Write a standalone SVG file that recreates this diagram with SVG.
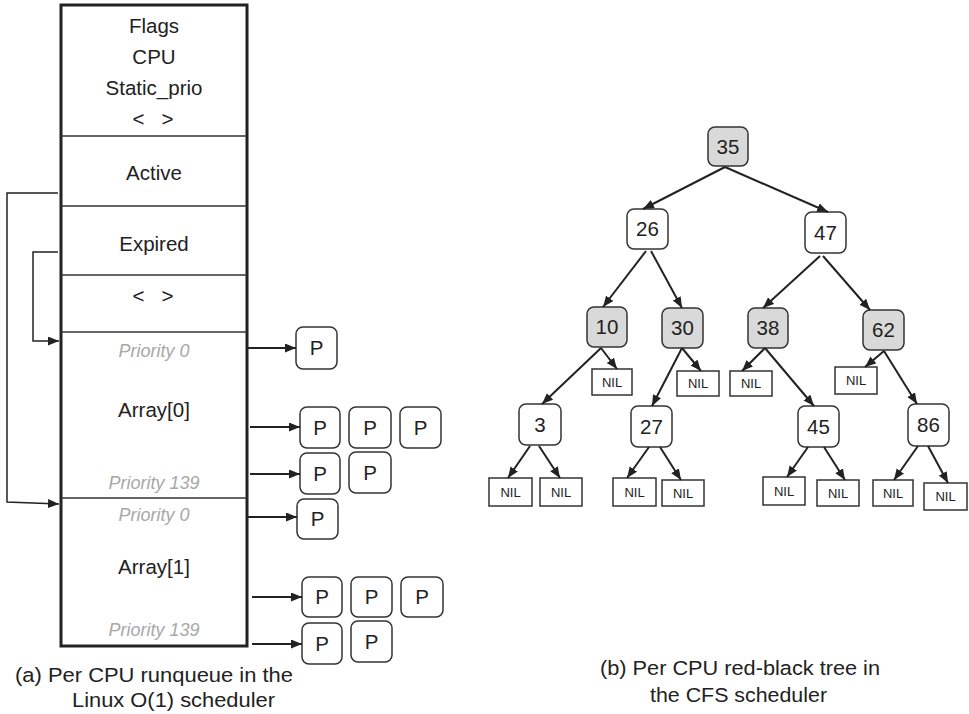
<svg xmlns="http://www.w3.org/2000/svg" width="969" height="714" viewBox="0 0 969 714">
<style>
text{font-family:"Liberation Sans",Arial,sans-serif;fill:#222}
.lbl{font-size:20.5px;text-anchor:middle}
.pri{font-size:18px;font-style:italic;fill:#a8a8a8;text-anchor:middle}
.cap{font-size:20.5px}
.nil{font-size:13px;text-anchor:middle}
.node rect{fill:#fff;stroke:#333;stroke-width:1.5}
.node.g rect{fill:#d9d9d9}
.nilbox rect{fill:#fff;stroke:#333;stroke-width:1.5}
.pbox rect{fill:#fff;stroke:#333;stroke-width:1.5}
.edge{stroke:#222;stroke-width:2;fill:none}
.thin{stroke:#222;stroke-width:1.5;fill:none}
.div{stroke:#333;stroke-width:1.5}
</style>
<defs>
<marker id="ah" markerUnits="userSpaceOnUse" markerWidth="12" markerHeight="10" refX="11" refY="4.5" orient="auto">
<path d="M0,0 L11,4.5 L0,9 z" fill="#222"/>
</marker>
</defs>
<rect width="969" height="714" fill="#fff"/>

<g id="runqueue">
<rect x="61" y="5" width="186" height="641" fill="#fff" stroke="#222" stroke-width="3"/>
<line class="div" x1="61" y1="136" x2="247" y2="136"/>
<line class="div" x1="61" y1="206" x2="247" y2="206"/>
<line class="div" x1="61" y1="275" x2="247" y2="275"/>
<line class="div" x1="61" y1="332" x2="247" y2="332"/>
<line class="div" x1="61" y1="498" x2="247" y2="498"/>
<text class="lbl" x="154" y="33">Flags</text>
<text class="lbl" x="154" y="64">CPU</text>
<text class="lbl" x="154" y="95">Static_prio</text>
<text class="lbl" x="153" y="126" xml:space="preserve">&lt;   &gt;</text>
<text class="lbl" x="154" y="180">Active</text>
<text class="lbl" x="154" y="251">Expired</text>
<text class="lbl" x="153" y="303" xml:space="preserve">&lt;   &gt;</text>
<text class="pri" x="154" y="357">Priority 0</text>
<text class="lbl" x="154" y="417">Array[0]</text>
<text class="pri" x="154" y="489">Priority 139</text>
<text class="pri" x="154" y="521">Priority 0</text>
<text class="lbl" x="154" y="574">Array[1]</text>
<text class="pri" x="154" y="636">Priority 139</text>
</g>

<g id="pnodes" class="pbox">
<g id="p1"><rect x="296" y="327" width="41" height="42" rx="7"/><text class="lbl" x="316.5" y="355">P</text></g>
<g id="p2"><rect x="300" y="407" width="40" height="41" rx="7"/><text class="lbl" x="320" y="434.5">P</text></g>
<g id="p3"><rect x="349" y="407" width="42" height="41" rx="7"/><text class="lbl" x="370" y="434.5">P</text></g>
<g id="p4"><rect x="400" y="407" width="41" height="41" rx="7"/><text class="lbl" x="420.5" y="434.5">P</text></g>
<g id="p5"><rect x="300" y="453" width="40" height="41" rx="7"/><text class="lbl" x="320" y="480.5">P</text></g>
<g id="p6"><rect x="349" y="452" width="42" height="41" rx="7"/><text class="lbl" x="370" y="479.5">P</text></g>
<g id="p7"><rect x="297" y="499" width="41" height="40" rx="7"/><text class="lbl" x="317.5" y="526">P</text></g>
<g id="p8"><rect x="302" y="577" width="40" height="40" rx="7"/><text class="lbl" x="322" y="604">P</text></g>
<g id="p9"><rect x="351" y="577" width="41" height="40" rx="7"/><text class="lbl" x="371.5" y="604">P</text></g>
<g id="p10"><rect x="401" y="577" width="42" height="40" rx="7"/><text class="lbl" x="422" y="604">P</text></g>
<g id="p11"><rect x="302" y="623" width="40" height="41" rx="7"/><text class="lbl" x="322" y="650.5">P</text></g>
<g id="p12"><rect x="351" y="621" width="41" height="41" rx="7"/><text class="lbl" x="371.5" y="648.5">P</text></g>
</g>

<g id="tree-nodes">
<g id="n35" class="node g"><rect x="708" y="127" width="40" height="39" rx="7"/><text class="lbl" x="728" y="153.5">35</text></g>
<g id="n26" class="node"><rect x="627" y="209" width="41" height="40" rx="7"/><text class="lbl" x="647.5" y="236">26</text></g>
<g id="n47" class="node"><rect x="805" y="212" width="41" height="41" rx="7"/><text class="lbl" x="825.5" y="239.5">47</text></g>
<g id="n10" class="node g"><rect x="587" y="307" width="40" height="40" rx="7"/><text class="lbl" x="607" y="334">10</text></g>
<g id="n30" class="node g"><rect x="662" y="308" width="41" height="40" rx="7"/><text class="lbl" x="682.5" y="335">30</text></g>
<g id="n38" class="node g"><rect x="748" y="308" width="40" height="40" rx="7"/><text class="lbl" x="768" y="335">38</text></g>
<g id="n62" class="node g"><rect x="863" y="310" width="41" height="40" rx="7"/><text class="lbl" x="883.5" y="337">62</text></g>
<g id="n3" class="node"><rect x="519" y="404" width="42" height="41" rx="7"/><text class="lbl" x="540" y="431.5">3</text></g>
<g id="n27" class="node"><rect x="631" y="406" width="41" height="41" rx="7"/><text class="lbl" x="651.5" y="433.5">27</text></g>
<g id="n45" class="node"><rect x="798" y="406" width="41" height="41" rx="7"/><text class="lbl" x="818.5" y="433.5">45</text></g>
<g id="n86" class="node"><rect x="908" y="404" width="41" height="42" rx="7"/><text class="lbl" x="928.5" y="432">86</text></g>
</g>

<g id="nil-nodes" class="nilbox">
<g id="nil1"><rect x="592" y="369" width="40" height="26"/><text class="nil" x="612" y="386.5">NIL</text></g>
<g id="nil2"><rect x="677" y="371" width="42" height="25"/><text class="nil" x="698" y="388">NIL</text></g>
<g id="nil3"><rect x="730" y="371" width="42" height="25"/><text class="nil" x="751" y="388">NIL</text></g>
<g id="nil4"><rect x="835" y="367" width="42" height="27"/><text class="nil" x="856" y="385">NIL</text></g>
<g id="nil5"><rect x="489" y="478" width="43" height="28"/><text class="nil" x="510.5" y="496.5">NIL</text></g>
<g id="nil6"><rect x="540" y="478" width="42" height="28"/><text class="nil" x="561" y="496.5">NIL</text></g>
<g id="nil7"><rect x="613" y="478" width="43" height="28"/><text class="nil" x="634.5" y="496.5">NIL</text></g>
<g id="nil8"><rect x="662" y="480" width="42" height="26"/><text class="nil" x="683" y="497.5">NIL</text></g>
<g id="nil9"><rect x="763" y="477" width="42" height="28"/><text class="nil" x="784" y="495.5">NIL</text></g>
<g id="nil10"><rect x="817" y="480" width="42" height="26"/><text class="nil" x="838" y="497.5">NIL</text></g>
<g id="nil11"><rect x="873" y="480" width="40" height="26"/><text class="nil" x="893" y="497.5">NIL</text></g>
<g id="nil12"><rect x="924" y="483" width="43" height="27"/><text class="nil" x="945.5" y="501">NIL</text></g>
</g>

<g id="connectors">
<path class="thin" d="M58,193 H7 V502 L59,504" marker-end="url(#ah)"/>
<path class="thin" d="M58,252 H33 V341 L59,341" marker-end="url(#ah)"/>
<line class="edge" x1="247" y1="348" x2="296" y2="348" marker-end="url(#ah)"/>
<line class="edge" x1="250" y1="427" x2="300" y2="427" marker-end="url(#ah)"/>
<line class="edge" x1="250" y1="474" x2="300" y2="474" marker-end="url(#ah)"/>
<line class="edge" x1="247" y1="517" x2="297" y2="517" marker-end="url(#ah)"/>
<line class="edge" x1="252" y1="597" x2="302" y2="597" marker-end="url(#ah)"/>
<line class="edge" x1="252" y1="644" x2="302" y2="644" marker-end="url(#ah)"/>

<line class="edge" x1="725" y1="167" x2="643" y2="209" marker-end="url(#ah)"/>
<line class="edge" x1="725" y1="167" x2="828" y2="212" marker-end="url(#ah)"/>
<line class="edge" x1="646" y1="251" x2="603" y2="307" marker-end="url(#ah)"/>
<line class="edge" x1="651" y1="251" x2="682" y2="308" marker-end="url(#ah)"/>
<line class="edge" x1="820" y1="256" x2="763" y2="308" marker-end="url(#ah)"/>
<line class="edge" x1="823" y1="256" x2="870" y2="310" marker-end="url(#ah)"/>
<line class="edge" x1="601" y1="348" x2="542" y2="404" marker-end="url(#ah)"/>
<line class="edge" x1="601" y1="348" x2="617" y2="369" marker-end="url(#ah)"/>
<line class="edge" x1="682" y1="348" x2="652" y2="406" marker-end="url(#ah)"/>
<line class="edge" x1="682" y1="348" x2="701" y2="371" marker-end="url(#ah)"/>
<line class="edge" x1="765" y1="348" x2="742" y2="371" marker-end="url(#ah)"/>
<line class="edge" x1="765" y1="348" x2="814" y2="406" marker-end="url(#ah)"/>
<line class="edge" x1="884" y1="351" x2="865" y2="367" marker-end="url(#ah)"/>
<line class="edge" x1="884" y1="351" x2="917" y2="404" marker-end="url(#ah)"/>
<line class="edge" x1="530" y1="446" x2="508" y2="478" marker-end="url(#ah)"/>
<line class="edge" x1="539" y1="446" x2="560" y2="478" marker-end="url(#ah)"/>
<line class="edge" x1="649" y1="447" x2="627" y2="478" marker-end="url(#ah)"/>
<line class="edge" x1="660" y1="447" x2="681" y2="480" marker-end="url(#ah)"/>
<line class="edge" x1="808" y1="447" x2="787" y2="477" marker-end="url(#ah)"/>
<line class="edge" x1="824" y1="447" x2="845" y2="480" marker-end="url(#ah)"/>
<line class="edge" x1="918" y1="446" x2="894" y2="480" marker-end="url(#ah)"/>
<line class="edge" x1="928" y1="446" x2="948" y2="483" marker-end="url(#ah)"/>
</g>

<g id="captions">
<text class="cap" x="15" y="682" textLength="278" lengthAdjust="spacingAndGlyphs">(a) Per CPU runqueue in the</text>
<text class="cap" x="72" y="707" textLength="203" lengthAdjust="spacingAndGlyphs">Linux O(1) scheduler</text>
<text class="cap" x="600" y="675" textLength="280" lengthAdjust="spacingAndGlyphs">(b) Per CPU red-black tree in</text>
<text class="cap" x="650" y="702" textLength="177" lengthAdjust="spacingAndGlyphs">the CFS scheduler</text>
</g>
</svg>
